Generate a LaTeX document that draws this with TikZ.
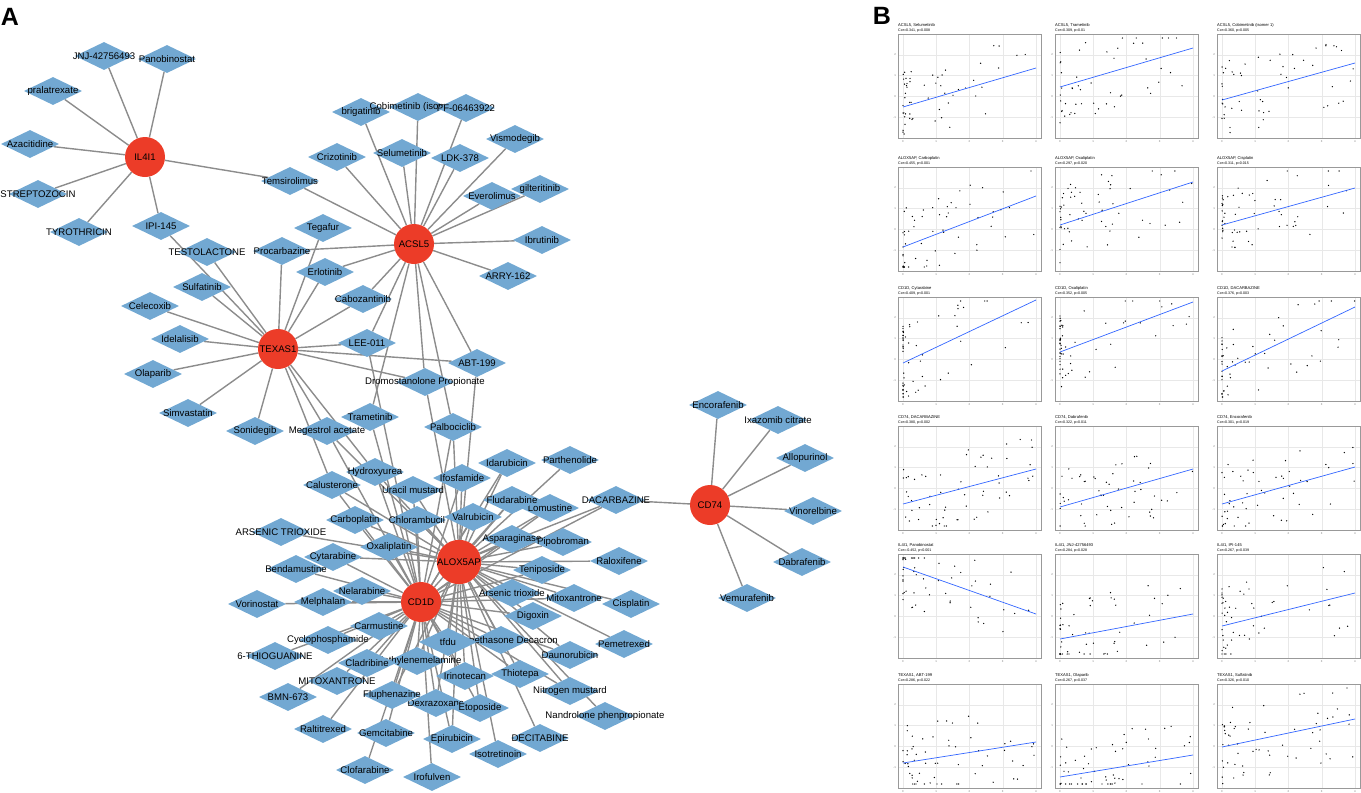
\documentclass[tikz,border=0pt]{standalone}
\usepackage{fontspec}
\setmainfont{Liberation Sans}
\usetikzlibrary{shapes.geometric}
\pgfdeclarelayer{background}
\pgfsetlayers{background,main}
\definecolor{drugblue}{RGB}{114,168,210}
\definecolor{hubred}{RGB}{236,60,40}
\definecolor{edgegray}{RGB}{140,140,140}
\definecolor{smoothblue}{RGB}{51,102,255}
\tikzset{
  drugshape/.style={diamond,fill=drugblue,draw=none,minimum width=58pt,minimum height=28pt,inner sep=0pt},
  druglabel/.style={font=\fontsize{9.6}{11}\selectfont,inner sep=0pt},
  hub/.style={circle,fill=hubred,draw=none,minimum size=40pt,inner sep=0pt,font=\fontsize{9.6}{11}\selectfont},
  edge/.style={draw=edgegray,line width=1.4pt},
  panelletter/.style={font=\fontsize{25}{25}\selectfont\bfseries,inner sep=0pt},
  pframe/.style={draw=black!40,line width=0.8pt},
  pgrid/.style={draw=black!9,line width=0.4pt},
  ptitle/.style={font=\fontsize{4.1}{5}\selectfont,anchor=west,inner sep=0pt},
  pcor/.style={font=\fontsize{3.6}{4}\selectfont,anchor=west,inner sep=0pt},
  ptick/.style={font=\fontsize{2.8}{3}\selectfont,text=black!55,inner sep=0pt},
  smoothline/.style={draw=smoothblue,line width=0.7pt},
}
\newcommand\drug[3]{\node[drugshape] (#1) at (#2) {};\node[druglabel] (#1t) at (#2) {#3};}
% scatter panel: x0, y0, title, cor, ya, yb, seed, N, power
\newcommand\scat[9]{%
  \draw[pgrid,fill=white] (#1,#2) rectangle ++(143,104);
  \foreach \i in {0,...,4} {\draw[pgrid] (#1+5+33.25*\i,#2) -- ++(0,104);
     \node[ptick] (xt\i) at (#1+5+33.25*\i,#2+108) {\i};}
  \foreach \j/\t in {1/2,2/1,3/0,4/-1} {\draw[pgrid] (#1,#2+\j*20.8) -- ++(143,0);
     \node[ptick,anchor=east] (yt\j) at (#1-2,#2+\j*20.8) {\t};}
  \draw[pframe] (#1,#2) rectangle ++(143,104);
  \node[ptitle] (tt#7) at (#1,#2-9) {#3};
  \node[pcor] (tc#7) at (#1,#2-3.5) {#4};
  \pgfmathsetseed{#7}
  \foreach \k in {1,...,#8} {%
    \pgfmathsetmacro\rr{rnd}
    \pgfmathsetmacro\rx{\rr^#9}
    \pgfmathsetmacro\px{#1+5+133*\rx}
    \pgfmathsetmacro\ly{#5+(#6-#5)*\rx}
    \pgfmathsetmacro\py{max(#2+4,min(#2+100,\ly+38*(2*rnd-1)))}
    \fill[black] (\px,\py) circle (0.7);
  }
  \draw[smoothline] (#1+5,#5) -- (#1+138,#6);
}
\begin{document}
\begin{tikzpicture}[x=1pt,y=-1pt]
\useasboundingbox (0,0) rectangle (1361,793);
\node[panelletter] (labA) at (10,17) {A};
\node[panelletter] (labB) at (882,16) {B};

% ---------- drugs ----------
\drug{jnj}{104,56}{JNJ-42756493}
\drug{pano}{167,59}{Panobinostat}
\drug{pral}{53,91}{pralatrexate}
\drug{aza}{30,144}{Azacitidine}
\drug{strep}{38,194}{STREPTOZOCIN}
\drug{tyro}{79,232}{TYROTHRICIN}
\drug{ipi}{161,226}{IPI-145}
\drug{testo}{207,252}{TESTOLACTONE}
\drug{tems}{290,181}{Temsirolimus}
\drug{proc}{282,251}{Procarbazine}
\drug{tega}{323,228}{Tegafur}
\drug{erlo}{325,272}{Erlotinib}
\drug{sulf}{202,287}{Sulfatinib}
\drug{cele}{150,306}{Celecoxib}
\drug{idel}{180,339}{Idelalisib}
\drug{olap}{153,374}{Olaparib}
\drug{simv}{188,413}{Simvastatin}
\drug{soni}{255,431}{Sonidegib}
\drug{meg}{327,431}{Megestrol acetate}
\drug{cabo}{363,299}{Cabozantinib}
\drug{lee}{367,343}{LEE-011}
\drug{abt}{477,363}{ABT-199}
\drug{drom}{425,382}{Dromostanolone Propionate}
\drug{tram}{370,417}{Trametinib}
\drug{palb}{453,427}{Palbociclib}
\drug{brig}{361,112}{brigatinib}
\drug{cobi}{418,107}{Cobimetinib (isomer 1)}
\drug{pf}{466,108}{PF-06463922}
\drug{criz}{337,157}{Crizotinib}
\drug{selu}{402,153}{Selumetinib}
\drug{ldk}{460,158}{LDK-378}
\drug{vism}{515,139}{Vismodegib}
\drug{gilt}{540,189}{gilteritinib}
\drug{ever}{492,196}{Everolimus}
\drug{ibru}{542,240}{Ibrutinib}
\drug{arry}{508,276}{ARRY-162}

\drug{part}{570,460}{Parthenolide}
\drug{idar}{507,463}{Idarubicin}
\drug{hydr}{375,472}{Hydroxyurea}
\drug{calu}{332,485}{Calusterone}
\drug{urac}{413,490}{Uracil mustard}
\drug{ifos}{462,478}{Ifosfamide}
\drug{carb}{355,520}{Carboplatin}
\drug{chlo}{417,520}{Chlorambucil}
\drug{valr}{473,517}{Valrubicin}
\drug{arsU}{281,532}{ARSENIC TRIOXIDE}
\drug{oxal}{389,547}{Oxaliplatin}
\drug{cyta}{333,557}{Cytarabine}
\drug{bend}{296,569}{Bendamustine}
\drug{nela}{362,591}{Nelarabine}
\drug{vori}{257,604}{Vorinostat}
\drug{melp}{323,602}{Melphalan}
\drug{carm}{379,626}{Carmustine}
\drug{cycl}{328,640}{Cyclophosphamide}
\drug{thiog}{275,656}{6-THIOGUANINE}
\drug{lomu}{550,508}{Lomustine}
\drug{flud}{512,500}{Fludarabine}
\drug{daca}{616,500}{DACARBAZINE}
\drug{aspa}{512,539}{Asparaginase}
\drug{pipo}{563,542}{Pipobroman}
\drug{ralo}{619,561}{Raloxifene}
\drug{teni}{542,570}{Teniposide}
\drug{arsL}{512,593}{Arsenic trioxide}
\drug{mito}{574,598}{Mitoxantrone}
\drug{cisp}{631,604}{Cisplatin}
\drug{digo}{533,616}{Digoxin}
\drug{dexa}{501,640}{Dexamethasone Decacron}
\drug{tfdu}{448,642}{tfdu}
\drug{peme}{624,644}{Pemetrexed}
\drug{daun}{570,655}{Daunorubicin}
\drug{trie}{417,661}{Triethylenemelamine}
\drug{clad}{367,663}{Cladribine}
\drug{irin}{465,676}{Irinotecan}
\drug{thiot}{520,674}{Thiotepa}
\drug{mitoU}{337,681}{MITOXANTRONE}
\drug{nitr}{570,691}{Nitrogen mustard}
\drug{bmn}{288,697}{BMN-673}
\drug{dexr}{436,703}{Dexrazoxane}
\drug{flup}{392,695}{Fluphenazine}
\drug{etop}{480,708}{Etoposide}
\drug{nand}{605,716}{Nandrolone phenpropionate}
\drug{ralt}{323,729}{Raltitrexed}
\drug{gemc}{386,733}{Gemcitabine}
\drug{epir}{452,739}{Epirubicin}
\drug{deci}{540,738}{DECITABINE}
\drug{isot}{498,754}{Isotretinoin}
\drug{clof}{365,770}{Clofarabine}
\drug{irof}{432,777}{Irofulven}

\drug{enco}{718,405}{Encorafenib}
\drug{ixaz}{778,420}{Ixazomib citrate}
\drug{allo}{805,458}{Allopurinol}
\drug{vino}{813,511}{Vinorelbine}
\drug{dabr}{802,562}{Dabrafenib}
\drug{vemu}{747,598}{Vemurafenib}

% ---------- hubs ----------
\node[hub] (IL) at (145,157) {IL4I1};
\node[hub] (AC) at (414,244) {ACSL5};
\node[hub] (TX) at (278,349) {TEXAS1};
\node[hub] (CD) at (421,602) {CD1D};
\node[hub] (AL) at (459,562) {ALOX5AP};
\node[hub] (C74) at (710,505) {CD74};

% ---------- edges ----------
\begin{pgfonlayer}{background}
\foreach \d in {jnj,pano,pral,aza,strep,tyro,ipi,tems}
  \draw[edge] (IL) -- (\d);
\foreach \d in {tems,brig,cobi,pf,criz,selu,ldk,vism,ever,gilt,ibru,arry,proc,erlo,cabo,lee,tram,drom,palb,abt}
  \draw[edge] (AC) -- (\d);
\foreach \d in {ipi,testo,proc,tega,erlo,sulf,cele,idel,olap,simv,soni,meg,cabo,lee,abt,drom,hydr,calu}
  \draw[edge] (TX) -- (\d);
\foreach \d in {enco,ixaz,allo,vino,dabr,vemu,daca}
  \draw[edge] (C74) -- (\d);
\foreach \d in {abt,drom,palb,idar,part,ifos,flud,lomu,daca,valr,aspa,pipo,ralo,teni,arsL,mito,cisp,digo,dexa,peme,daun,thiot,nitr,nand,deci,isot,etop,irin,epir,chlo,urac,oxal,hydr,calu,carb,arsU,tfdu,trie,flup,dexr,cyta,meg}
  \draw[edge] (AL) -- (\d);
\foreach \d in {ifos,idar,flud,lomu,daca,valr,urac,chlo,carb,calu,oxal,cyta,bend,nela,melp,vori,carm,cycl,thiog,mitoU,bmn,clad,trie,flup,ralt,gemc,clof,irof,dexr,epir,etop,irin,tfdu,thiot,daun,digo,arsL,teni,mito,nitr,dexa,palb,lee,tram,meg,hydr,aspa}
  \draw[edge] (CD) -- (\d);
\end{pgfonlayer}

% ---------- panel B ----------
\scat{898}{34}{ACSL5, Selumetinib}{Cor=0.341, p=0.008}{107}{68}{11}{55}{2.5}
\scat{1055}{34}{ACSL5, Trametinib}{Cor=0.309, p=0.01}{87}{48}{12}{50}{2.0}
\scat{1217}{34}{ACSL5, Cobimetinib (isomer 1)}{Cor=0.360, p=0.005}{100}{63}{13}{55}{2.2}
\scat{898}{167}{ALOX5AP, Carboplatin}{Cor=0.455, p<0.001}{247}{196}{14}{60}{3}
\scat{1055}{167}{ALOX5AP, Oxaliplatin}{Cor=0.297, p=0.020}{225}{182}{15}{60}{3}
\scat{1217}{167}{ALOX5AP, Cisplatin}{Cor=0.311, p=0.015}{225}{188}{16}{60}{3}
\scat{898}{297}{CD1D, Cytarabine}{Cor=0.409, p<0.001}{363}{300}{17}{60}{5}
\scat{1055}{297}{CD1D, Oxaliplatin}{Cor=0.352, p=0.005}{352}{302}{18}{60}{5}
\scat{1217}{297}{CD1D, DACARBAZINE}{Cor=0.376, p=0.003}{371}{307}{19}{55}{5}
\scat{898}{426}{CD74, DACARBAZINE}{Cor=0.380, p=0.002}{504}{469}{20}{60}{1.6}
\scat{1055}{426}{CD74, Dabrafenib}{Cor=0.322, p=0.011}{507}{469}{21}{55}{1.6}
\scat{1217}{426}{CD74, Encorafenib}{Cor=0.301, p=0.019}{504}{467}{22}{55}{1.6}
\scat{898}{554}{IL4I1, Panobinostat}{Cor=-0.452, p<0.001}{567}{614}{23}{55}{3}
\scat{1055}{554}{IL4I1, JNJ-42756493}{Cor=0.284, p=0.028}{639}{614}{24}{55}{3}
\scat{1217}{554}{IL4I1, IPI-145}{Cor=0.267, p=0.039}{626}{593}{25}{55}{3}
\scat{898}{684}{TEXAS1, ABT-199}{Cor=0.286, p=0.022}{763}{742}{26}{60}{1.5}
\scat{1055}{684}{TEXAS1, Olaparib}{Cor=0.267, p=0.037}{777}{755}{27}{60}{1.8}
\scat{1217}{684}{TEXAS1, Sulfatinib}{Cor=0.326, p=0.010}{747}{719}{28}{60}{1.5}
\end{tikzpicture}
\end{document}
